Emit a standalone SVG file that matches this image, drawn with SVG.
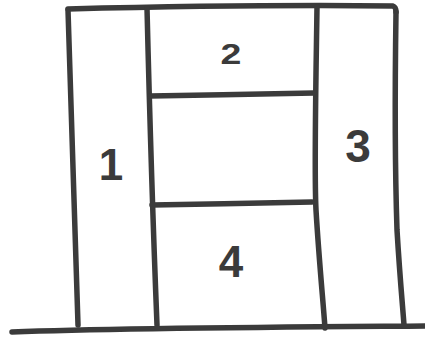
<svg xmlns="http://www.w3.org/2000/svg" width="425" height="338" viewBox="0 0 425 338">
<style>
.ln{fill:none;stroke:#3b3b3b;stroke-width:5.5;stroke-linecap:round;stroke-linejoin:round}
.lb{font-family:"Liberation Sans","DejaVu Sans",sans-serif;font-weight:bold;fill:#3b3b3b;text-anchor:middle}
</style>
<rect width="425" height="338" fill="#ffffff"/>
<g id="connectors">
<path class="ln" d="M68,9 C150,7 300,5 393,6 Q396,7 396,12"/>
<path class="ln" d="M68,10 C71,80 74,200 78,325"/>
<path class="ln" d="M147,8 C149,90 152,200 157,325"/>
<path class="ln" d="M317,7 C316,80 314,170 316,210 C319,260 323,300 325,328"/>
<path class="ln" d="M396,12 C395,80 395,170 397,230 C400,280 403,310 404,325"/>
<path class="ln" d="M150,96 C200,95 270,94 314,93"/>
<path class="ln" d="M152,205 C200,204 270,203 312,202"/>
<path class="ln" d="M12,332 C120,328 300,327 425,326"/>
</g>
<g id="n1"><text class="lb" x="111" y="180" font-size="44">1</text></g>
<g id="n2"><text class="lb" x="0" y="0" font-size="30" transform="translate(231,64) scale(1.25,1)">2</text></g>
<g id="n3"><text class="lb" x="358" y="162" font-size="46">3</text></g>
<g id="n4"><text class="lb" x="231" y="277" font-size="44">4</text></g>
</svg>
